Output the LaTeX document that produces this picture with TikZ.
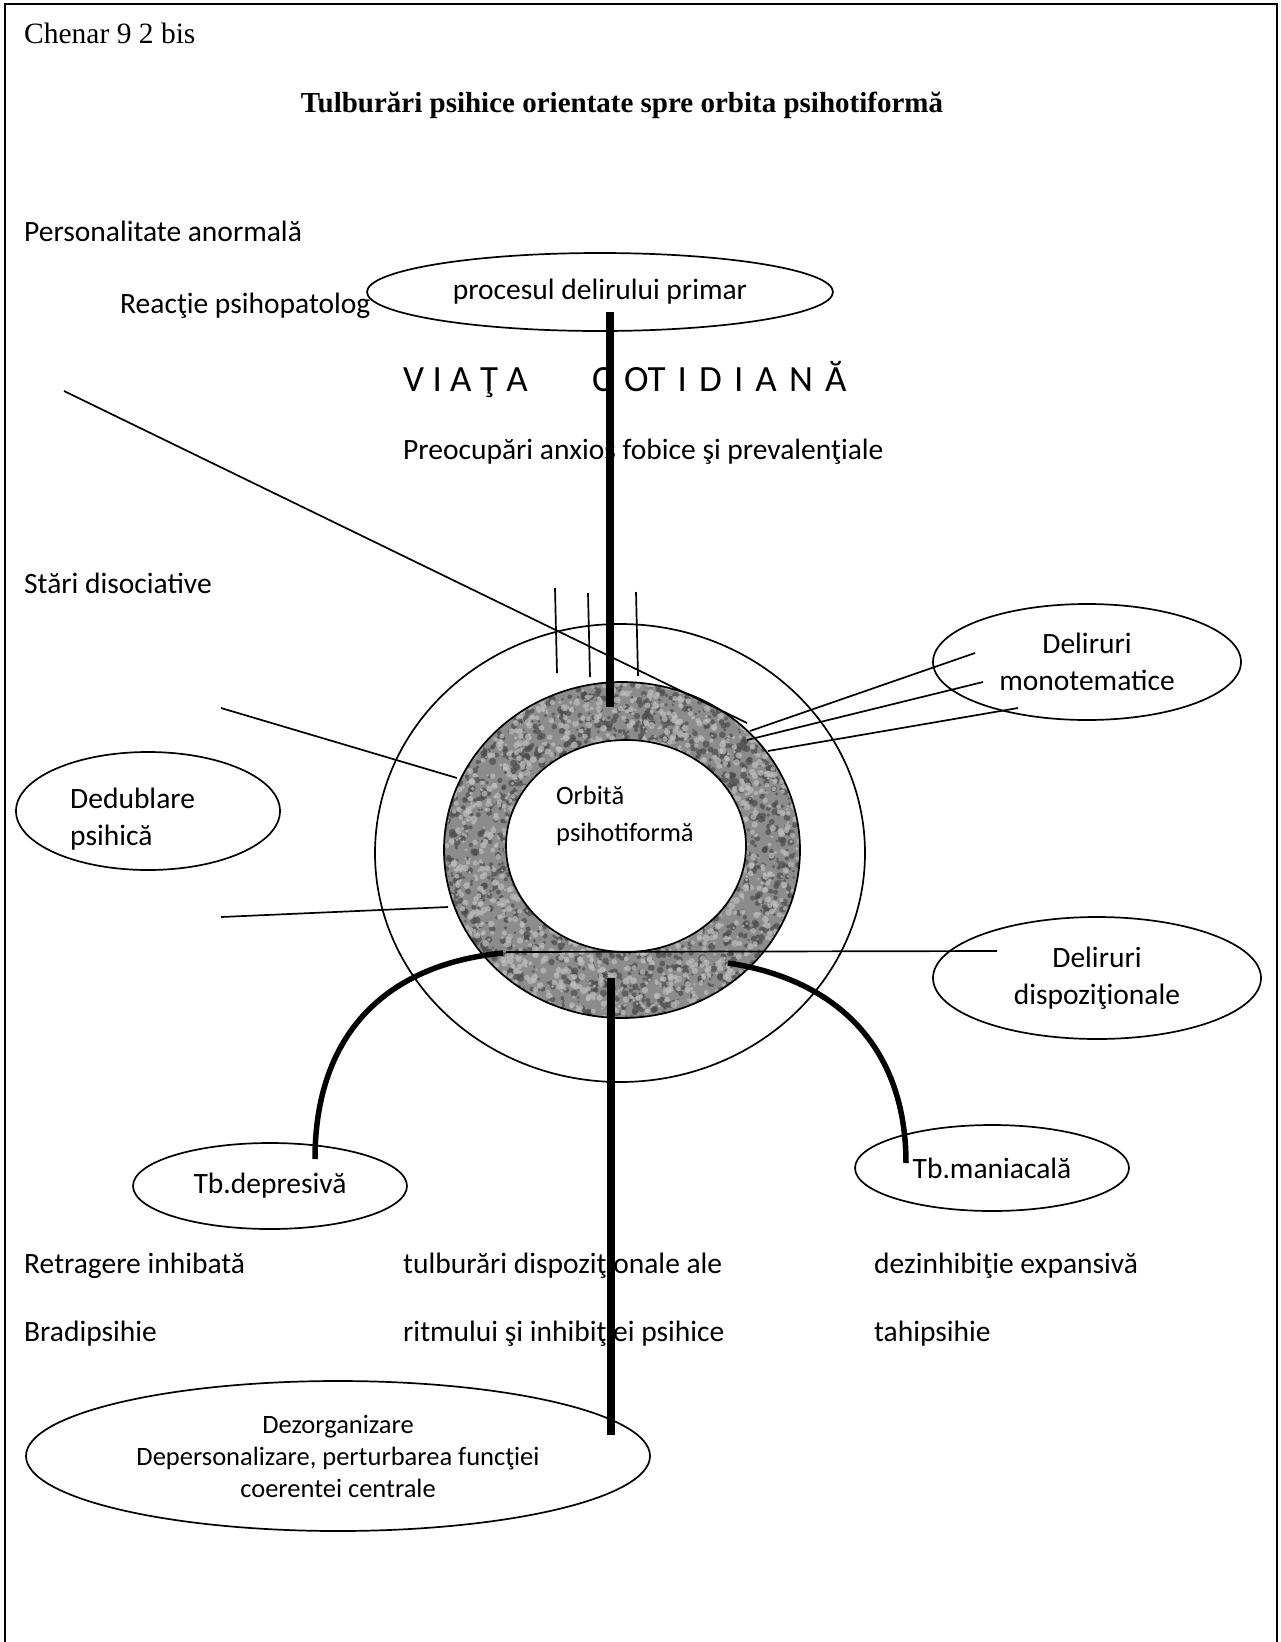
\documentclass[tikz,border=0pt]{standalone}
\usepackage{fontspec}
\setmainfont{Carlito}
\newfontfamily\tnr{Liberation Serif}
\newfontfamily\widefont[WordSpace=1.45]{Carlito}
\usetikzlibrary{shapes.geometric}
\begin{document}
\begin{tikzpicture}[x=1pt,y=-1pt,
  thinln/.style={line width=1.7pt},
  heavyln/.style={line width=8pt},
  arcln/.style={line width=5.5pt},
  oval/.style={ellipse, draw, line width=1.7pt, inner sep=0pt, align=center, font=\fontsize{29.5}{37}\selectfont},
  txt/.style={inner sep=0pt, font=\fontsize{29.5}{37}\selectfont},
  smalltxt/.style={inner sep=0pt, align=left, font=\fontsize{26.5}{37}\selectfont},
]
\useasboundingbox (0,0) rectangle (1281,1642);
\fill[white] (0,0) rectangle (1281,1642);
% frame (open at the bottom)
\draw[line width=2pt] (5,1642) -- (5,4) -- (1277,4) -- (1277,1642);

% texts
\node[inner sep=0pt, anchor=base west, font=\tnr\fontsize{29.5}{35}\selectfont] (chenar) at (24,43) {Chenar 9 2 bis};
\node[inner sep=0pt, anchor=base, font=\tnr\bfseries\fontsize{29}{35}\selectfont] (title) at (622,112) {Tulburări psihice orientate spre orbita psihotiformă};
\node[txt, anchor=base west] (pers) at (24,241) {Personalitate anormală};
\node[txt, anchor=base west] (reac) at (120,313) {Reacţie psihopatolog};
\node[inner sep=0pt, anchor=base west, font=\fontsize{37}{44}\selectfont] (viata) at (403,391) {V I A Ţ A};
\node[inner sep=0pt, anchor=base west, font=\widefont\fontsize{37}{44}\selectfont] (cotid) at (592,391) {C OT I D I A N Ă};
\node[txt, anchor=base west] (preoc) at (403,459) {Preocupări anxios fobice şi prevalenţiale};
\node[txt, anchor=base west] (stari) at (24,593) {Stări disociative};
\node[txt, anchor=base west] (retr) at (24,1273) {Retragere inhibată};
\node[txt, anchor=base west] (brad) at (24,1341) {Bradipsihie};
\node[txt, anchor=base west] (tulb) at (403,1273) {tulburări dispoziţionale ale};
\node[txt, anchor=base west] (ritm) at (403,1341) {ritmului şi inhibiţiei psihice};
\node[txt, anchor=base west] (dezi) at (874,1273) {dezinhibiţie expansivă};
\node[txt, anchor=base west] (tahi) at (874,1341) {tahipsihie};

% rings
\node[ellipse, draw, line width=1.7pt, inner sep=0pt, minimum width=490, minimum height=458] (outer) at (620,853) {};
\begin{scope}
  \clip (622,850) ellipse [x radius=178, y radius=168];
  \fill[black!45] (622,850) ellipse [x radius=178, y radius=168];
  \pgfmathsetseed{17}
  \foreach \i in {1,...,2600}{
    \pgfmathsetmacro{\px}{622+180*rand}
    \pgfmathsetmacro{\py}{850+170*rand}
    \pgfmathsetmacro{\pr}{1.2+2.5*rnd}
    \fill[black!70, opacity=0.7] (\px,\py) circle[radius=\pr];
  }
  \foreach \i in {1,...,2400}{
    \pgfmathsetmacro{\px}{622+180*rand}
    \pgfmathsetmacro{\py}{850+170*rand}
    \pgfmathsetmacro{\pr}{1.2+2.3*rnd}
    \fill[black!25, opacity=0.7] (\px,\py) circle[radius=\pr];
  }
\end{scope}
\node[ellipse, draw, line width=1.7pt, inner sep=0pt, minimum width=356, minimum height=336] (ring) at (622,850) {};
\node[ellipse, draw, fill=white, line width=1.7pt, inner sep=0pt, minimum width=240, minimum height=212] (inner) at (626,846) {};
\node[smalltxt, anchor=west] (orbit) at (556,816) {Orbită\\psihotiformă};

% free ends of connectors
\coordinate (dA) at (64,391);   \coordinate (dB) at (747,723);
\coordinate (v1a) at (555,588); \coordinate (v1b) at (557,673);
\coordinate (v2a) at (588,593); \coordinate (v2b) at (590,677);
\coordinate (v3a) at (636,592); \coordinate (v3b) at (638,676);
\coordinate (l1a) at (221,708); \coordinate (l1b) at (457,778);
\coordinate (l2a) at (221,917); \coordinate (l2b) at (448,907);
\coordinate (r1a) at (750,731); \coordinate (r1b) at (975,653);
\coordinate (r2a) at (747,740); \coordinate (r2b) at (983,682);
\coordinate (r3a) at (768,751); \coordinate (r3b) at (1018,708);
\coordinate (h1a) at (506,952); \coordinate (h1b) at (997,951);
\coordinate (tA) at (610,312);  \coordinate (tB) at (610,707);
\coordinate (bA) at (611,978);  \coordinate (bB) at (611,1435);
\coordinate (aL1) at (503,953); \coordinate (aL2) at (315,1159);
\coordinate (aR1) at (728,963); \coordinate (aR2) at (906,1163);

% ellipses
\node[oval, fill=white, minimum width=466, minimum height=78] (proc) at (600,292) {procesul delirului primar};
\node[oval, minimum width=308, minimum height=116] (mono) at (1087,662) {Deliruri\\monotematice};
\node[oval, minimum width=328, minimum height=122] (disp) at (1097,978) {Deliruri\\dispoziţionale};
\node[oval, fill=white, minimum width=264, minimum height=118] (dedub) at (148,811) {};
\node[txt, align=left, anchor=west] (dedubt) at (70,819) {Dedublare\\psihică};
\node[oval, minimum width=274, minimum height=86] (tbdep) at (270,1186) {Tb.depresivă};
\node[oval, minimum width=274, minimum height=86] (tbman) at (992,1168) {Tb.maniacală};
\node[oval, minimum width=624, minimum height=150, font=\fontsize{26.5}{32}\selectfont] (dezorg) at (338,1456) {Dezorganizare\\Depersonalizare, perturbarea funcţiei\\coerentei centrale};

% thin connectors
\draw[thinln] (dA) -- (dB);
\draw[thinln] (v1a) -- (v1b);
\draw[thinln] (v2a) -- (v2b);
\draw[thinln] (v3a) -- (v3b);
\draw[thinln] (l1a) -- (l1b);
\draw[thinln] (l2a) -- (l2b);
\draw[thinln] (r1a) -- (r1b);
\draw[thinln] (r2a) -- (r2b);
\draw[thinln] (r3a) -- (r3b);
\draw[thinln] (h1a) -- (h1b);

% heavy connectors
\draw[heavyln] (tA) -- (tB);
\draw[heavyln] (bA) -- (bB);
\draw[arcln] (aL1) .. controls (380,965) and (315,1040) .. (aL2);
\draw[arcln] (aR1) .. controls (840,980) and (906,1050) .. (aR2);
\end{tikzpicture}
\end{document}
